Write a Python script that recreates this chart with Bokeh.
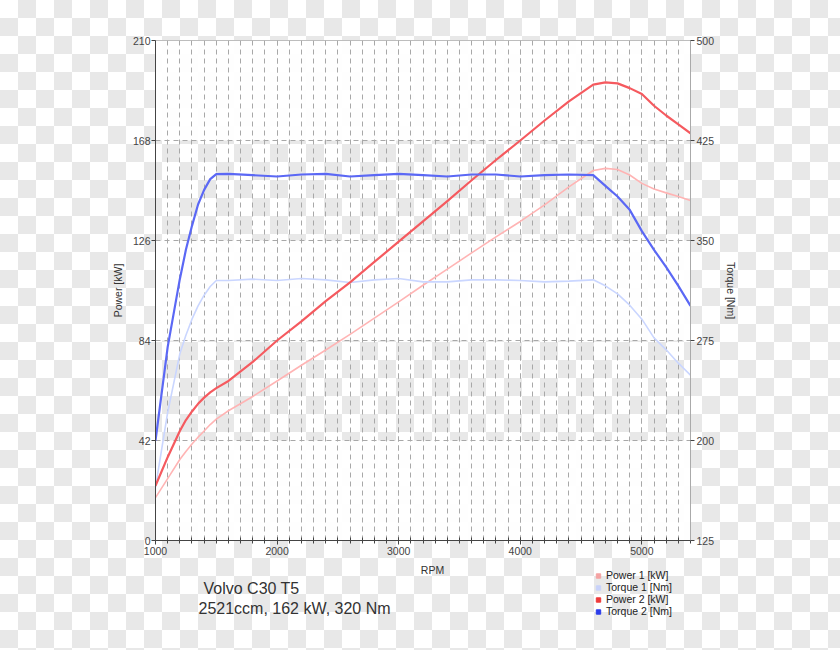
from bokeh.plotting import figure
from bokeh.layouts import column
from bokeh.models import (Range1d, LinearAxis, FixedTicker, SingleIntervalTicker,
                          BoxAnnotation, Label, Legend, LegendItem)
from bokeh.embed import file_html
from bokeh.resources import INLINE

# ---- data ----
rpm = [1000, 1100, 1200, 1250, 1300, 1350, 1400, 1450, 1500, 1600, 1800, 2000, 2200, 2400,
       2600, 2800, 3000, 3200, 3400, 3600, 3800, 4000, 4200, 4400, 4600, 4700, 4800, 4900,
       5000, 5100, 5200, 5300, 5400]
power1 = [18, 26, 34, 37.4, 40.5, 43.4, 46, 48.7, 51, 54.5, 60.5, 67, 73.6, 80,
          86.6, 93.4, 100.2, 107.2, 114, 120.8, 127.5, 134, 141, 148.5, 155.4, 156.3, 155.8, 153.5,
          150, 147.6, 146, 144.5, 142.8]
torque1 = [165, 221, 265, 279, 291, 301, 309, 315.5, 320, 320, 321, 320, 321.5, 320.5,
           318.5, 320.5, 321.5, 319, 319, 320.5, 320.5, 320, 319, 319.5, 320.5, 316, 310, 301.5,
           291, 277, 268, 258, 249]
power2 = [23, 35, 46, 50.6, 54.2, 57.4, 60, 62.2, 64, 67, 75, 84, 92, 100.5,
          108.4, 117, 125.5, 134, 142.5, 151.3, 159.8, 168, 176.4, 184.4, 191.5, 192.4, 192, 190,
          187.5, 182.6, 178.5, 174.8, 171]
torque2 = [200, 270, 321, 343, 361, 377, 388, 396, 399.8, 400, 399, 398, 399.5, 400,
           398, 399, 400, 399, 398, 399.5, 399.5, 398, 399, 399.5, 399, 391, 383, 373,
           357, 343, 330, 316, 301]

power_ticks = [0, 42, 84, 126, 168, 210]
torque_ticks = [125, 200, 275, 350, 425, 500]
series_names = ["Power 1 [kW]", "Torque 1 [Nm]", "Power 2 [kW]", "Torque 2 [Nm]"]
title_lines = ["Volvo C30 T5", "2521ccm, 162 kW, 320 Nm"]

FONT = "Liberation Sans"
GRID = "#a8a8a8"
CHECKER = "repeating-conic-gradient(#e8e8e8 0% 25%, #ffffff 0% 50%) 0 0 / 36px 36px"
FRAME_LEFT = 155  # the bottom strip's frame is aligned with the chart frame

p = figure(width=840, height=562, output_backend="svg", toolbar_location=None,
           x_range=Range1d(1000, 5400), y_range=Range1d(power_ticks[0], power_ticks[-1]),
           min_border_left=FRAME_LEFT, min_border_right=150, min_border_top=40,
           min_border_bottom=22)
p.background_fill_alpha = 0
p.border_fill_alpha = 0
p.outline_line_color = "#aaaaaa"
p.outline_line_width = 1
p.extra_y_ranges = {"torque": Range1d(torque_ticks[0], torque_ticks[-1])}

# white bands (every other band between power ticks)
for i in range(0, len(power_ticks) - 1, 2):
    p.add_layout(BoxAnnotation(bottom=power_ticks[i], top=power_ticks[i + 1],
                               fill_color="white", fill_alpha=0.92, line_alpha=0,
                               level="image"))

# axes
xa = p.xaxis[0]
xa.ticker = SingleIntervalTicker(interval=1000, num_minor_ticks=10)
xa.axis_line_color = "#444444"
xa.major_tick_line_color = "#444444"
xa.minor_tick_line_color = "#444444"
xa.major_tick_in = 3
xa.major_tick_out = 4
xa.minor_tick_in = 3
xa.minor_tick_out = 3
xa.major_label_standoff = 2

ya = p.yaxis[0]
ya.ticker = FixedTicker(ticks=power_ticks)
ya.axis_label = "Power [kW]"
ya.axis_line_color = "#444444"
ya.major_tick_line_color = "#444444"
ya.major_tick_in = 0
ya.major_tick_out = 4
ya.minor_tick_line_color = None
ya.major_label_standoff = 1
ya.axis_label_standoff = 6

ra = LinearAxis(y_range_name="torque", ticker=FixedTicker(ticks=torque_ticks),
                axis_label="Torque [Nm]")
ra.axis_line_color = "#aaaaaa"
ra.major_tick_line_color = "#444444"
ra.major_tick_in = 0
ra.major_tick_out = 4
ra.minor_tick_line_color = None
ra.major_label_standoff = 2
ra.axis_label_standoff = 8
p.add_layout(ra, "right")

for ax in [xa, ya, ra]:
    ax.major_label_text_font = FONT
    ax.major_label_text_font_size = "10.5px"
    ax.major_label_text_color = "#444444"
    ax.axis_label_text_font = FONT
    ax.axis_label_text_font_size = "10.5px"
    ax.axis_label_text_font_style = "normal"
    ax.axis_label_text_color = "#333333"

# grids
p.xgrid.ticker = xa.ticker
p.xgrid.grid_line_color = GRID
p.xgrid.grid_line_dash = "5 4"
p.xgrid.minor_grid_line_color = GRID
p.xgrid.minor_grid_line_dash = "5 4"
p.ygrid.ticker = FixedTicker(ticks=power_ticks)
p.ygrid.grid_line_color = GRID
p.ygrid.grid_line_dash = "5 4"

# curves
p.line(rpm, power1, line_color="#ffb4b4", line_width=1.6, line_join="round")
p.line(rpm, torque1, line_color="#cad6ff", line_width=1.6, line_join="round",
       y_range_name="torque")
p.line(rpm, power2, line_color="#f55a5f", line_width=2.2, line_join="round")
p.line(rpm, torque2, line_color="#5b68f5", line_width=2.2, line_join="round",
       y_range_name="torque")

# ---- bottom strip: x-axis title, vehicle caption and legend ----
q = figure(width=840, height=88, output_backend="svg", toolbar_location=None,
           x_range=Range1d(0, 1), y_range=Range1d(0, 1),
           x_axis_location=None, y_axis_location=None,
           min_border_left=0, min_border_right=0, min_border_top=0, min_border_bottom=0)
q.background_fill_alpha = 0
q.border_fill_alpha = 0
q.outline_line_color = None
q.grid.visible = False

q.add_layout(Label(x=432 - FRAME_LEFT, y=81, x_units="screen", y_units="screen", text="RPM",
                   text_font=FONT, text_font_size="10.5px", text_color="#333333",
                   text_align="center", text_baseline="middle"))
q.add_layout(Label(x=203 - FRAME_LEFT, y=62, x_units="screen", y_units="screen",
                   text=title_lines[0],
                   text_font=FONT, text_font_size="16px", text_color="#333333",
                   text_baseline="middle"))
q.add_layout(Label(x=198 - FRAME_LEFT, y=42, x_units="screen", y_units="screen",
                   text=title_lines[1],
                   text_font=FONT, text_font_size="16px", text_color="#333333",
                   text_baseline="middle"))

# legend: square swatches (proxy renderers with no visible point)
marker_colors = ["#f4a3a3", "#c8d2fa", "#ee3b3b", "#2b3cea"]
items = []
for name, col in zip(series_names, marker_colors):
    r = q.scatter(x=[float("nan")], y=[float("nan")], marker="square", size=5,
                  fill_color=col, line_color=col)
    items.append(LegendItem(label=name, renderers=[r]))
legend = Legend(items=items, location=(592 - FRAME_LEFT, 33), orientation="vertical",
                background_fill_alpha=0, border_line_alpha=0,
                glyph_width=12, glyph_height=11, label_height=11, label_standoff=2,
                spacing=0, padding=0, margin=0,
                label_text_font=FONT, label_text_font_size="10.5px",
                label_text_color="#222222")
q.add_layout(legend, "center")

page = column(p, q, spacing=0, styles={"background": CHECKER})

open("out.html", "w").write(file_html(page, INLINE))
